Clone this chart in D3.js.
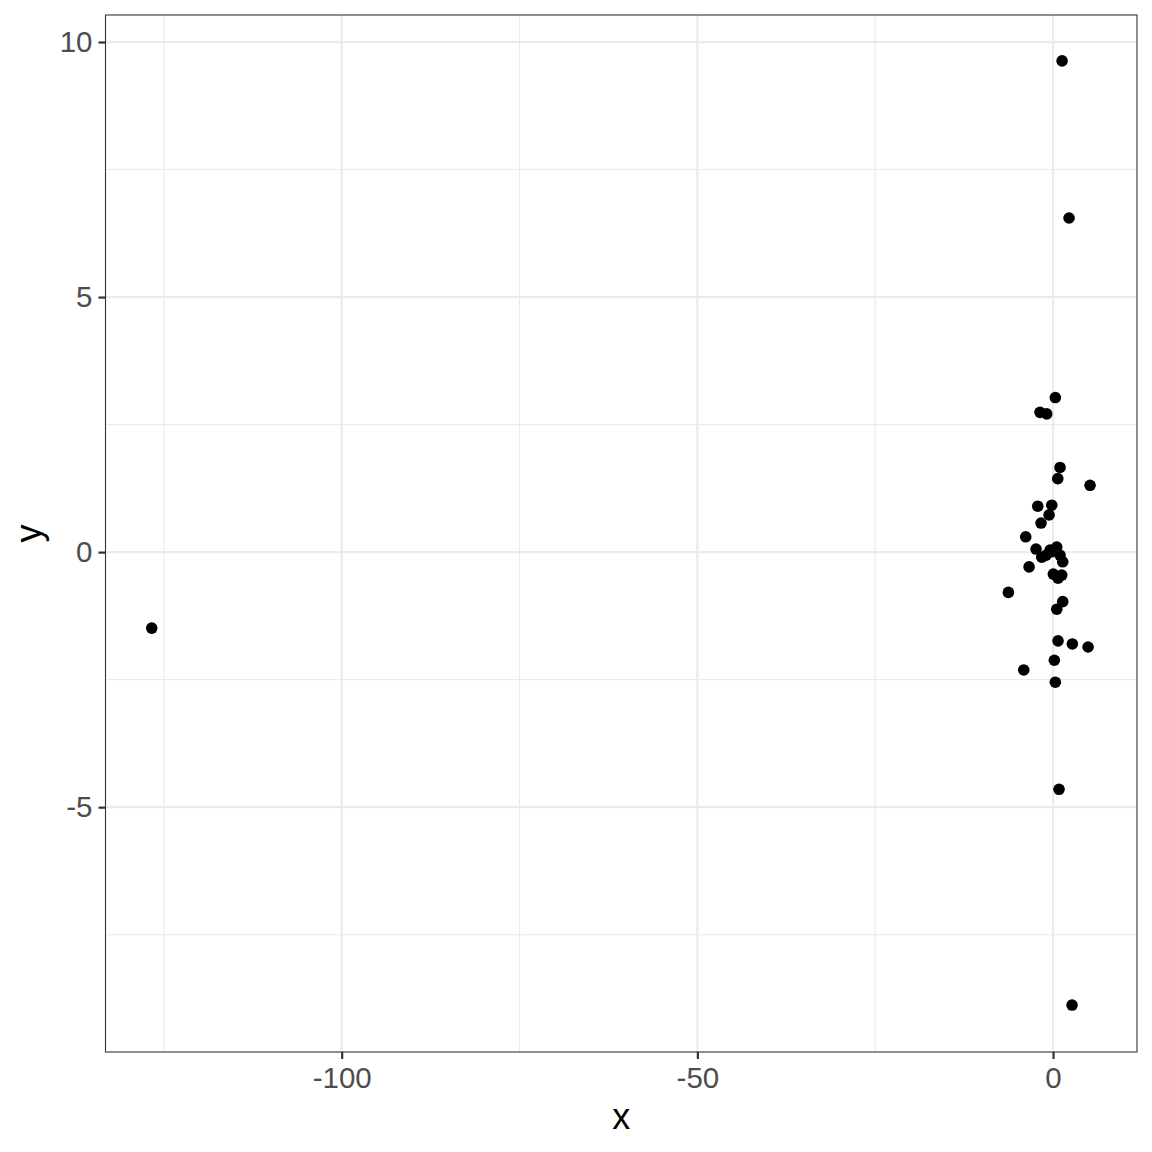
<!DOCTYPE html>
<html><head><meta charset="utf-8">
<script src="https://cdn.jsdelivr.net/npm/d3@7"></script>
<style>body{margin:0;background:#fff;} text{font-family:"Liberation Sans",Arial,sans-serif;}</style>
</head><body>
<svg id="c" width="1152" height="1152"></svg>
<script>
const xs = [1.27,2.25,0.32,-1.83,-0.89,0.98,0.66,5.20,-2.15,-0.18,-0.56,-1.69,-3.84,-2.39,0.52,-1.59,-0.18,0.98,1.36,-3.37,0.04,1.22,0.70,-6.28,1.36,0.52,0.70,2.71,4.92,0.18,-4.12,0.32,0.84,2.67,-126.7,-0.98,-0.42];
const ys = [9.63,6.55,3.03,2.74,2.71,1.66,1.44,1.31,0.90,0.92,0.73,0.57,0.30,0.06,0.10,-0.10,0.01,-0.06,-0.19,-0.29,-0.43,-0.45,-0.51,-0.79,-0.97,-1.12,-1.74,-1.80,-1.86,-2.12,-2.31,-2.55,-4.65,-8.88,-1.49,-0.06,0.04];
const xTicks = [-100,-50,0];
const xMinor = [-125,-75,-25];
const yTicks = [-5,0,5,10];
const yMinor = [-7.5,-2.5,2.5,7.5];

const L=105.5,R=1137,T=15,B=1052;
const x = d3.scaleLinear().domain([-133.2,11.8]).range([L,R]);
const y = d3.scaleLinear().domain([-9.80,10.53]).range([B,T]);
const svg = d3.select("#c");
const g = svg.append("g");
g.selectAll(".mnx").data(xMinor).join("line").attr("x1",d=>x(d)).attr("x2",d=>x(d)).attr("y1",T).attr("y2",B).attr("stroke","#EBEBEB").attr("stroke-width",1.1);
g.selectAll(".mny").data(yMinor).join("line").attr("y1",d=>y(d)).attr("y2",d=>y(d)).attr("x1",L).attr("x2",R).attr("stroke","#EBEBEB").attr("stroke-width",1.1);
g.selectAll(".mjx").data(xTicks).join("line").attr("x1",d=>x(d)).attr("x2",d=>x(d)).attr("y1",T).attr("y2",B).attr("stroke","#EBEBEB").attr("stroke-width",2.2);
g.selectAll(".mjy").data(yTicks).join("line").attr("y1",d=>y(d)).attr("y2",d=>y(d)).attr("x1",L).attr("x2",R).attr("stroke","#EBEBEB").attr("stroke-width",2.2);

const pts = xs.map((v,i)=>({x:v,y:ys[i]}));
svg.append("g").selectAll("circle").data(pts).join("circle")
  .attr("cx",d=>x(d.x)).attr("cy",d=>y(d.y)).attr("r",5.8).attr("fill","#000");

svg.append("rect").attr("x",L).attr("y",T).attr("width",R-L).attr("height",B-T).attr("fill","none").attr("stroke","#333333").attr("stroke-width",1.1);

const xa = svg.append("g").attr("transform",`translate(0,${B})`)
  .call(d3.axisBottom(x).tickValues(xTicks).tickSize(7).tickPadding(8).tickFormat(d3.format("d")));
const ya = svg.append("g").attr("transform",`translate(${L},0)`)
  .call(d3.axisLeft(y).tickValues(yTicks).tickSize(7).tickPadding(6).tickFormat(d3.format("d")));
[xa,ya].forEach(a=>{
  a.select(".domain").remove();
  a.selectAll(".tick line").attr("stroke","#333333").attr("stroke-width",2.2);
  a.selectAll(".tick text").attr("fill","#4D4D4D").style("font-size","29.5px").style("font-family","Liberation Sans, Arial, sans-serif");
});
xa.selectAll(".tick text").text(d=>d<0?"-"+Math.abs(d):d);
ya.selectAll(".tick text").text(d=>d<0?"-"+Math.abs(d):d);

svg.append("text").attr("x",(L+R)/2).attr("y",1129).attr("text-anchor","middle").style("font-size","36px").attr("fill","#000").text("x");
svg.append("text").attr("transform",`translate(41,${(T+B)/2}) rotate(-90)`).attr("text-anchor","middle").style("font-size","36px").attr("fill","#000").text("y");
</script>
</body></html>
